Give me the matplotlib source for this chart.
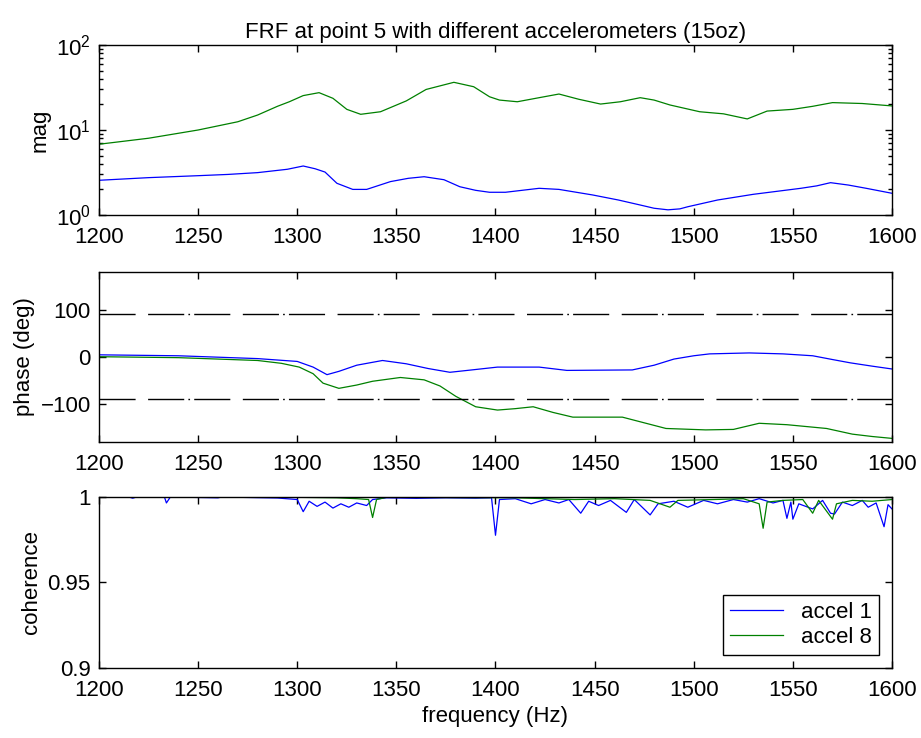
import numpy as np
import matplotlib
matplotlib.use("Agg")
import matplotlib.pyplot as plt
from matplotlib.ticker import FixedLocator, FixedFormatter, LogLocator, NullFormatter

plt.rcParams['font.family'] = ['Liberation Sans', 'DejaVu Sans']
plt.rcParams['font.size'] = 16

# magnitude
mag1_f = [1200, 1225, 1250, 1265, 1280, 1295, 1303, 1309, 1314, 1320, 1328, 1335, 1347, 1356,
          1364, 1374, 1382, 1390, 1397, 1405, 1422, 1432, 1449, 1462, 1473, 1480, 1487, 1493,
          1497, 1512, 1530, 1554, 1562, 1569, 1578, 1587, 1600]
mag1 = [2.56, 2.75, 2.9, 3.0, 3.15, 3.45, 3.77, 3.5, 3.2, 2.36, 2.0, 2.0, 2.47, 2.7,
        2.82, 2.6, 2.15, 1.95, 1.85, 1.85, 2.06, 2.0, 1.72, 1.5, 1.31, 1.2, 1.15, 1.18,
        1.25, 1.5, 1.75, 2.06, 2.2, 2.4, 2.25, 2.06, 1.8]
mag8_f = [1200, 1225, 1250, 1270, 1280, 1290, 1296, 1303, 1311, 1318, 1325, 1332, 1342, 1355,
          1365, 1379, 1389, 1397, 1402, 1411, 1422, 1432, 1442, 1453, 1463, 1473, 1480, 1488,
          1503, 1515, 1527, 1537, 1550, 1560, 1570, 1585, 1600]
mag8 = [6.8, 8.0, 10.0, 12.5, 15, 19, 21.5, 25.4, 27.5, 23.6, 17.5, 15.3, 16.4, 22,
        30, 36.4, 32.3, 24.6, 22.5, 21.5, 24, 26.5, 23, 20.2, 21.5, 24, 22.5, 19.7,
        16.4, 15.5, 13.5, 16.7, 17.5, 19, 21, 20.5, 19.2]

# phase (deg)
ph1_f = [1200, 1240, 1280, 1300, 1308, 1315, 1321, 1330, 1343, 1355, 1366, 1377, 1388, 1401,
         1422, 1436, 1469, 1480, 1490, 1500, 1508, 1528, 1545, 1560, 1570, 1579, 1590, 1600]
ph1 = [4, 2, -4, -10, -22, -38, -31, -18, -8, -15, -25, -33, -28, -22,
       -22, -29, -28, -18, -5, 2, 6, 8, 6, 2, -6, -13, -20, -26]
ph8_f = [1200, 1240, 1280, 1292, 1301, 1308, 1313, 1321, 1330, 1338, 1352, 1364, 1372, 1380,
         1390, 1401, 1410, 1419, 1429, 1439, 1464, 1475, 1486, 1506, 1520, 1533, 1547, 1567,
         1580, 1590, 1600]
ph8 = [0, -2, -8, -14, -22, -36, -56, -67, -60, -52, -44, -49, -62, -84,
       -106, -113, -110, -106, -118, -128, -128, -140, -152, -155, -154, -141, -144, -152,
       -164, -169, -173]
phase_limits = [90, -90]

# coherence
coh1_f = [1200, 1215, 1217, 1219, 1233, 1234, 1236, 1260, 1262, 1280, 1290, 1300, 1303, 1306,
          1310, 1314, 1318, 1322, 1326, 1330, 1335, 1338, 1345, 1360, 1375, 1390, 1398, 1400,
          1402, 1410, 1418, 1425, 1432, 1437, 1443, 1447, 1452, 1458, 1466, 1470, 1478, 1482,
          1490, 1497, 1505, 1512, 1520, 1527, 1533, 1540, 1545, 1547, 1549, 1550, 1553, 1560,
          1565, 1569, 1571, 1575, 1580, 1585, 1588, 1592, 1596, 1598, 1600]
coh1 = [1.0, 1.0, 0.9993, 1.0, 1.0, 0.9965, 1.0, 0.9995, 1.0, 0.9996, 0.9994, 0.9985, 0.9914, 0.9975,
        0.9945, 0.997, 0.9935, 0.996, 0.994, 0.9965, 0.995, 0.9985, 0.9995, 0.9992, 0.9995, 0.9993, 0.9995, 0.9776,
        0.9985, 0.999, 0.996, 0.9985, 0.9965, 0.9985, 0.9905, 0.9975, 0.995, 0.998, 0.991, 0.9985, 0.9895, 0.996,
        0.9975, 0.994, 0.998, 0.996, 0.9985, 0.997, 0.999, 0.9965, 0.998, 0.9875, 0.997, 0.987, 0.996, 0.993,
        0.998, 0.9905, 0.99, 0.997, 0.995, 0.998, 0.994, 0.9965, 0.9826, 0.9955, 0.993]
coh8_f = [1200, 1300, 1320, 1330, 1336, 1338, 1340, 1345, 1400, 1410, 1440, 1460, 1478, 1488,
          1492, 1510, 1525, 1533, 1535, 1537, 1545, 1555, 1560, 1563, 1570, 1572, 1580, 1590, 1600]
coh8 = [1.0, 0.9998, 0.9995, 0.999, 0.9985, 0.988, 0.9985, 0.9998, 0.9996, 0.9995, 0.9985, 0.999, 0.998, 0.994,
        0.998, 0.9985, 0.999, 0.996, 0.9817, 0.997, 0.998, 0.9985, 0.9905, 0.998, 0.987, 0.996, 0.998, 0.9975, 0.9985]

labels = ['accel 1', 'accel 8']
blue = (0, 0, 1)
green = (0, 0.5, 0)
xticks = np.arange(1200, 1601, 50)

fig = plt.figure(figsize=(9.21, 7.38), dpi=100)
ax1 = fig.add_axes([0.1075, 0.7087, 0.861, 0.2303])
ax2 = fig.add_axes([0.1075, 0.4015, 0.861, 0.2303])
ax3 = fig.add_axes([0.1075, 0.0949, 0.861, 0.2317])


def style(ax):
    ax.set_xlim(1200, 1600)
    ax.set_xticks(xticks)
    ax.tick_params(direction='in', top=True, right=True, length=5, width=1, labelsize=16)
    ax.tick_params(axis='x', pad=9)
    ax.tick_params(axis='y', pad=6)
    ax.tick_params(which='minor', direction='in', top=True, right=True, length=3, width=1)
    for s in ax.spines.values():
        s.set_linewidth(1.0)


# magnitude
ax1.semilogy(mag1_f, mag1, color=blue, lw=0.9)
ax1.semilogy(mag8_f, mag8, color=green, lw=0.9)
ax1.set_ylim(1, 100)
ax1.yaxis.set_major_locator(LogLocator(base=10, numticks=5))
ax1.yaxis.set_minor_locator(LogLocator(base=10, subs=np.arange(2, 10), numticks=20))
ax1.yaxis.set_minor_formatter(NullFormatter())
ax1.set_ylabel('mag')
ax1.set_title('FRF at point 5 with different accelerometers (15oz)', fontsize=16, pad=5)
style(ax1)

# phase
ax2.plot(ph1_f, ph1, color=blue, lw=0.9)
ax2.plot(ph8_f, ph8, color=green, lw=0.9)
for p in phase_limits:
    ax2.axhline(p, color='k', lw=1.0, dashes=(26, 9, 26, 3, 1.2, 3))
ax2.set_ylim(-180, 180)
ax2.set_yticks([-100, 0, 100])
ax2.set_ylabel('phase (deg)')
style(ax2)

# coherence
ax3.plot(coh1_f, coh1, color=blue, lw=0.9, label=labels[0])
ax3.plot(coh8_f, coh8, color=green, lw=0.9, label=labels[1])
ax3.set_ylim(0.9, 1.0)
ax3.yaxis.set_major_locator(FixedLocator([0.9, 0.95, 1.0]))
ax3.yaxis.set_major_formatter(FixedFormatter(['0.9', '0.95', '1']))
ax3.set_ylabel('coherence')
ax3.set_xlabel('frequency (Hz)', labelpad=3)
style(ax3)
leg = ax3.legend(loc='lower right', fontsize=16, fancybox=False, framealpha=1,
                 edgecolor='k', borderaxespad=0.6, handlelength=2.4, borderpad=0.3,
                 labelspacing=0.2)
leg.get_frame().set_linewidth(1.0)

fig.savefig('out.png', dpi=100)
